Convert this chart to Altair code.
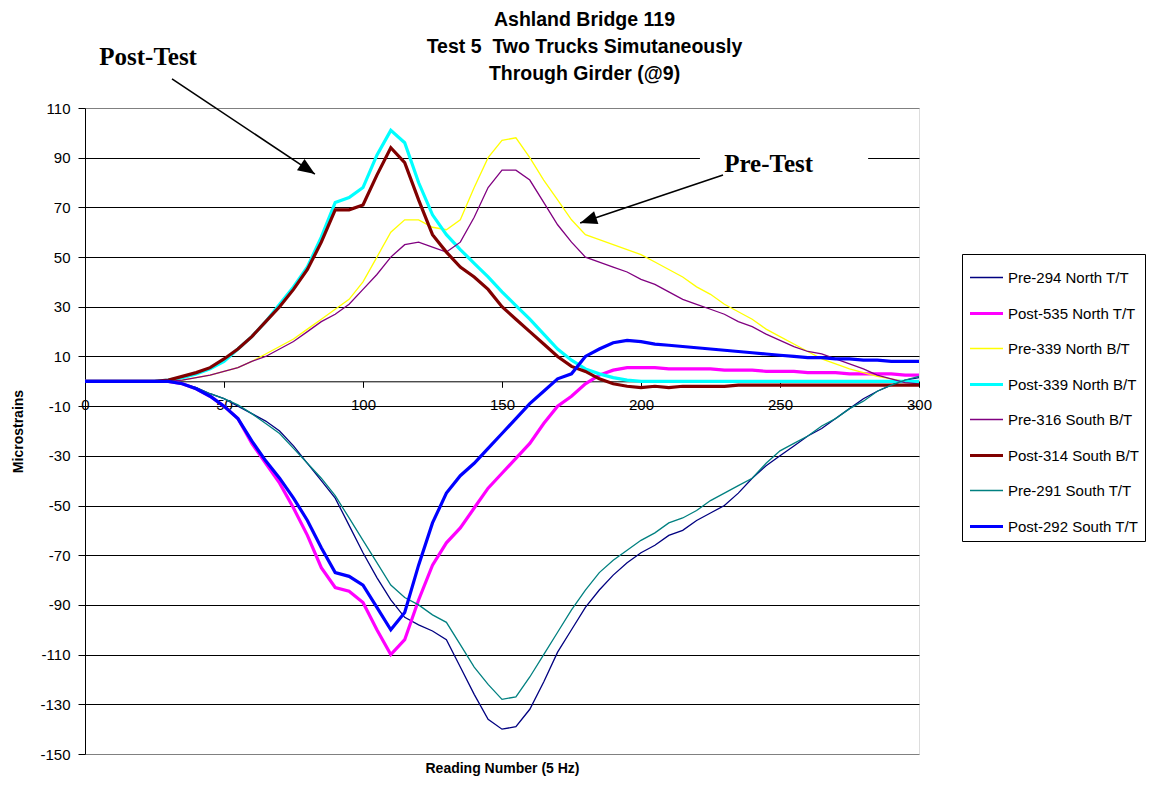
import math
import altair as alt
import pandas as pd

# ---------------- data ----------------
READINGS = [0, 5, 10, 15, 20, 25, 30, 35, 40, 45, 50, 55, 60, 65, 70, 75, 80, 85, 90, 95,
            100, 105, 110, 115, 120, 125, 130, 135, 140, 145, 150, 155, 160, 165, 170, 175,
            180, 185, 190, 195, 200, 205, 210, 215, 220, 225, 230, 235, 240, 245, 250, 255,
            260, 265, 270, 275, 280, 285, 290, 295, 300]

SERIES_NAMES = ["Pre-294 North T/T", "Post-535 North T/T", "Pre-339 North B/T",
                "Post-339 North B/T", "Pre-316 South B/T", "Post-314 South B/T",
                "Pre-291 South T/T", "Post-292 South T/T"]
SERIES_COLORS = ["#000080", "#FF00FF", "#FFFF00", "#00FFFF",
                 "#800080", "#800000", "#008080", "#0000FF"]
SERIES_WIDTHS = [1.3, 3.2, 1.3, 3.2, 1.3, 3.2, 1.3, 3.2]

PRE_294 = [0, 0, 0, 0, 0, 0, 0, -1, -2.5, -5, -7, -10, -13, -16, -20, -26, -33, -40, -47, -58,
           -69, -79, -88, -95, -98, -100.5, -104, -115, -126, -136, -140, -139, -132, -121, -109, -100,
           -91, -84, -78, -73, -69, -66, -62, -60, -56, -53, -50, -45, -39, -34, -30, -26,
           -22, -19, -15, -11, -7, -4, -1.5, 0.5, 1.5]
POST_535 = [0, 0, 0, 0, 0, 0, 0, -1, -3, -6, -10, -15, -25, -33, -41, -51, -62, -75, -83, -84.5,
            -89, -100, -110, -104, -88, -74, -65, -59, -51, -43, -37, -31, -25, -17, -10, -6,
            -1, 2.5, 4.5, 5.5, 5.5, 5.5, 5, 5, 5, 5, 4.5, 4.5, 4.5, 4, 4, 4,
            3.5, 3.5, 3.5, 3, 3, 3, 3, 2.5, 2.5]
PRE_339 = [0, 0, 0, 0, 0, 0, 0, 0.5, 1.5, 2.5, 4, 5.5, 8, 11, 14, 17, 21, 25, 29, 33,
           40, 50, 60, 65, 65, 62, 61, 65, 78, 90, 97, 98, 90, 81, 73, 65,
           59, 57, 55, 53, 51, 48, 45, 42, 38, 35, 31, 28, 25, 21, 18, 15,
           12, 9, 7, 5, 3.5, 2, 1, 0, -0.5]
POST_339 = [0, 0, 0, 0, 0, 0, 0.5, 1.5, 3, 5, 8, 13, 18, 24, 31, 38, 46, 58, 72, 74,
            78, 91, 101, 96, 80, 67, 59, 53, 47.5, 42, 36, 30.5, 25, 19, 13, 8.5,
            5, 3, 1.5, 0.5, 0, 0, 0, 0, 0, 0, 0, 0, 0, 0, 0, 0,
            0, 0, 0, 0, 0, 0, 0, 0, 0]
PRE_316 = [0, 0, 0, 0, 0, 0, 0, 0.5, 1.5, 2.5, 4, 5.5, 8, 10, 13, 16, 20, 24, 27, 31,
           37, 43, 50, 55, 56, 54, 52, 56, 66, 78, 85, 85, 81, 72, 63, 56,
           50, 48, 46, 44, 41, 39, 36, 33, 31, 29, 27, 24, 22, 19, 16.5, 14,
           12, 11, 9, 7, 5, 2.5, 1, -0.5, -1]
POST_314 = [0, 0, 0, 0, 0, 0, 0.5, 2, 3.5, 5.5, 9, 13, 18, 24, 30, 37, 45, 56, 69, 69,
            71, 83, 94, 88, 73, 59, 52, 46, 42, 37, 30, 25, 20, 15, 10, 6,
            4, 1, -1, -2, -2.5, -2, -2.5, -2, -2, -2, -2, -1.5, -1.5, -1.5, -1.5, -1.5,
            -1.5, -1.5, -1.5, -1.5, -1.5, -1.5, -1.5, -1.5, -1.5]
PRE_291 = [0, 0, 0, 0, 0, 0, 0, -1, -2.5, -5, -7, -9.5, -13, -17, -21, -27, -33, -39, -46, -55,
           -64, -73, -82, -87, -90, -94, -97, -106, -115, -122, -128, -127, -119, -110, -101, -92,
           -84, -77, -72, -68, -64, -61, -57, -55, -52, -48, -45, -42, -39, -33, -28, -25,
           -22, -18, -15, -11, -8, -4, -1.5, 0.5, 2]
POST_292 = [0, 0, 0, 0, 0, 0, 0, -1, -3, -6, -10, -15, -24, -32, -39, -47, -56, -67, -77, -78.5,
            -82, -91, -100, -93, -74, -57, -45, -38, -33, -27, -21, -15, -9, -4, 1, 3,
            10, 13, 15.5, 16.5, 16, 15, 14.5, 14, 13.5, 13, 12.5, 12, 11.5, 11, 10.5, 10,
            9.5, 9.5, 9, 9, 8.5, 8.5, 8, 8, 8]

SERIES_VALUES = [PRE_294, POST_535, PRE_339, POST_339, PRE_316, POST_314, PRE_291, POST_292]

X_TICKS = [0, 50, 100, 150, 200, 250, 300]
Y_TICKS = [-150, -130, -110, -90, -70, -50, -30, -10, 10, 30, 50, 70, 90, 110]

TITLE_LINES = ["Ashland Bridge 119", "Test 5\u00a0\u00a0Two Trucks Simutaneously",
               "Through Girder (@9)"]

# annotations, in data units (reading, microstrain)
ANN_LABELS = ["Post-Test", "Pre-Test"]
ANN_LABEL_X = [22.7, 245.9]
ANN_LABEL_Y = [127.3, 84.2]
ARROW_START_X = [31.3, 229.5]
ARROW_START_Y = [121.7, 83.0]
ARROW_TIP_X = [82.7, 178.1]
ARROW_TIP_Y = [83.4, 63.7]
MASK_X = [221.2]
MASK_X2 = [281.7]
MASK_Y = [94.7]
MASK_Y2 = [82.6]

# ---------------- layout ----------------
W, H = 834, 646
X_MIN, X_MAX = 0, 300
Y_MIN, Y_MAX = -150, 110
FONT = "Liberation Sans"
X_AXIS_OFFSET = -H * (0 - Y_MIN) / (Y_MAX - Y_MIN)

rows = []
for name, vals in zip(SERIES_NAMES, SERIES_VALUES):
    for x, v in zip(READINGS, vals):
        rows.append({"series": name, "reading": x, "strain": v})
df = pd.DataFrame(rows)

kx = W / (X_MAX - X_MIN)
ky = H / (Y_MAX - Y_MIN)
angles = []
for sx, sy, tx, ty in zip(ARROW_START_X, ARROW_START_Y, ARROW_TIP_X, ARROW_TIP_Y):
    dxp = (tx - sx) * kx
    dyp = -(ty - sy) * ky
    angles.append(math.degrees(math.atan2(dxp, -dyp)) % 360)

arrows = pd.DataFrame({"reading": ARROW_START_X, "strain": ARROW_START_Y,
                       "reading2": ARROW_TIP_X, "strain2": ARROW_TIP_Y})
heads = pd.DataFrame({"reading": ARROW_TIP_X, "strain": ARROW_TIP_Y, "angle": angles})
labels = pd.DataFrame({"reading": ANN_LABEL_X, "strain": ANN_LABEL_Y, "label": ANN_LABELS})
mask = pd.DataFrame({"reading": MASK_X, "reading2": MASK_X2, "strain": MASK_Y, "strain2": MASK_Y2})

x_scale = alt.Scale(domain=[X_MIN, X_MAX], nice=False, zero=False)
y_scale = alt.Scale(domain=[Y_MIN, Y_MAX], nice=False, zero=False)

x_axis = alt.Axis(values=X_TICKS, grid=False, offset=X_AXIS_OFFSET, tickSize=6,
                  labelPadding=10, labelFontSize=15, labelColor="black", labelFont=FONT,
                  labelFlush=False, labelOverlap=False,
                  title="Reading Number (5 Hz)", titleFontSize=14, titleFontWeight="bold",
                  titleFont=FONT, titleColor="black", titleY=391, titleBaseline="alphabetic",
                  domainColor="black", tickColor="black", domainWidth=1)
y_axis = alt.Axis(values=Y_TICKS, grid=True,
                  gridColor={"condition": {"test": "datum.value == 110 || datum.value == -150",
                                           "value": "#808080"}, "value": "#000000"},
                  gridWidth=1, tickSize=7, labelPadding=8, labelFontSize=15,
                  labelColor="black", labelFont=FONT, labelOverlap=False,
                  labelExpr="'' + datum.value",
                  title="Microstrains", titleFontSize=14, titleFontWeight="bold",
                  titleFont=FONT, titleColor="black", titleX=-60, titleY=H / 2,
                  domainColor="black", tickColor="black")

legend = alt.Legend(orient="none", legendX=877, legendY=146, title=None,
                    fillColor="white", strokeColor="black", padding=6,
                    labelFont=FONT, labelFontSize=15, labelColor="black",
                    symbolType="stroke", symbolSize=1089, rowPadding=9, labelOffset=3)

color = alt.Color("series:N", scale=alt.Scale(domain=SERIES_NAMES, range=SERIES_COLORS),
                  legend=legend)
swidth = alt.StrokeWidth("series:N",
                         scale=alt.Scale(type="ordinal", domain=SERIES_NAMES, range=SERIES_WIDTHS),
                         legend=legend)

base = alt.Chart(df).mark_line().encode(
    x=alt.X("reading:Q", scale=x_scale, axis=x_axis),
    y=alt.Y("strain:Q", scale=y_scale, axis=y_axis),
    color=color,
    strokeWidth=swidth,
)
line_layers = [base.transform_filter(alt.datum.series == n) for n in SERIES_NAMES]

mask_layer = alt.Chart(mask).mark_rect(fill="white").encode(
    x=alt.X("reading:Q", scale=x_scale), x2="reading2:Q",
    y=alt.Y("strain:Q", scale=y_scale), y2="strain2:Q")

arrow_layer = alt.Chart(arrows).mark_rule(color="black", strokeWidth=1.6).encode(
    x=alt.X("reading:Q", scale=x_scale), x2="reading2:Q",
    y=alt.Y("strain:Q", scale=y_scale), y2="strain2:Q")

head_layer = alt.Chart(heads).mark_point(
    shape="M0,0L0.4,1L-0.4,1Z", filled=True, color="black", opacity=1, size=1156,
    strokeWidth=0).encode(
    x=alt.X("reading:Q", scale=x_scale),
    y=alt.Y("strain:Q", scale=y_scale),
    angle=alt.Angle("angle:Q", scale=None))

text_layer = alt.Chart(labels).mark_text(
    font="Liberation Serif", fontWeight="bold", fontSize=25, color="black",
    align="center", baseline="alphabetic").encode(
    x=alt.X("reading:Q", scale=x_scale),
    y=alt.Y("strain:Q", scale=y_scale),
    text="label:N")

chart = alt.layer(*line_layers, mask_layer, arrow_layer, head_layer, text_layer).properties(
    width=W, height=H,
    autosize=alt.AutoSizeParams(type="none"),
    padding={"left": 85, "top": 108, "right": 250, "bottom": 32},
    title=alt.TitleParams(text=TITLE_LINES, fontSize=19.5, font=FONT, fontWeight="bold",
                          color="black", anchor="middle", frame="group", dx=82.5,
                          dy=62, offset=23, lineHeight=27),
).configure_view(stroke="#808080", strokeWidth=1).configure(font=FONT, background="white")

chart.save("out.html", embed_options={"renderer": "svg", "actions": False})
